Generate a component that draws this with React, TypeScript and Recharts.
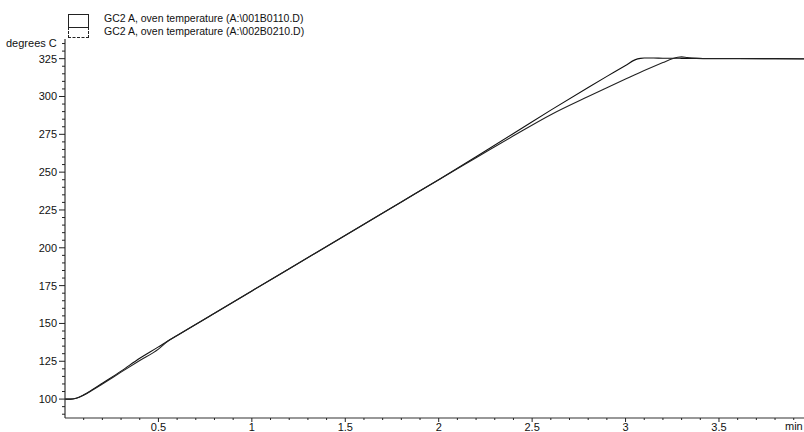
import { Line, LineChart, XAxis, YAxis } from "recharts";

const times = [
  0, 0.03, 0.06, 0.1, 0.15, 0.2, 0.3, 0.4, 0.5, 0.55, 0.6, 0.8, 1.0, 1.2, 1.4, 1.6, 1.8, 2.0, 2.2,
  2.4, 2.6, 2.8, 2.9, 3.0, 3.05, 3.08, 3.1, 3.15, 3.2, 3.25, 3.28, 3.3, 3.33, 3.38, 3.45, 3.6, 3.8,
  3.955,
];

// GC2 A, oven temperature (A:\001B0110.D)
const run1 = [
  100, 100, 100.6, 102.8, 106.5, 110.5, 118.5, 127, 134.5, 138.4, 142, 156.7, 171.5, 186.2, 200.9,
  215.6, 230.3, 245, 260.2, 275.5, 291, 306, 313.3, 320.5, 324.2, 325.2, 325.4, 325.4, 325.3, 325.3,
  325.3, 325.2, 325.2, 325.2, 325.1, 325.1, 325, 324.9,
];

// GC2 A, oven temperature (A:\002B0210.D)
const run2 = [
  100, 100, 100.5, 102.6, 106.2, 110, 117.8, 125.5, 133, 138.2, 142, 156.7, 171.5, 186.2, 200.9,
  215.6, 230.3, 245, 259.5, 274, 288, 300, 305.8, 311.5, 314.3, 316, 317.1, 319.8, 322.4, 324.9,
  325.9, 326.2, 325.7, 325.2, 325, 325, 324.9, 324.8,
];

const yTicks = [
  90, 95, 100, 105, 110, 115, 120, 125, 130, 135, 140, 145, 150, 155, 160, 165, 170, 175, 180, 185,
  190, 195, 200, 205, 210, 215, 220, 225, 230, 235, 240, 245, 250, 255, 260, 265, 270, 275, 280, 285,
  290, 295, 300, 305, 310, 315, 320, 325, 330, 335,
];

const xTicks = [
  0.1, 0.2, 0.3, 0.4, 0.5, 0.6, 0.7, 0.8, 0.9, 1, 1.1, 1.2, 1.3, 1.4, 1.5, 1.6, 1.7, 1.8, 1.9, 2,
  2.1, 2.2, 2.3, 2.4, 2.5, 2.6, 2.7, 2.8, 2.9, 3, 3.1, 3.2, 3.3, 3.4, 3.5, 3.6, 3.7, 3.8, 3.9,
];

const seriesNames = [
  "GC2 A, oven temperature (A:\\001B0110.D)",
  "GC2 A, oven temperature (A:\\002B0210.D)",
];

const data = times.map((t, i) => ({ t, a: run1[i], b: run2[i] }));

const FONT = "'Liberation Sans', Arial, sans-serif";

function YTick({ x, y, payload }: any) {
  const v = payload.value as number;
  const major = v % 25 === 0;
  return (
    <g>
      <line x1={x - (major ? 6 : 3)} x2={x} y1={y} y2={y} stroke="#222" strokeWidth={1} />
      {major && (
        <text x={x - 8} y={y + 4} textAnchor="end" fontSize={11} fontFamily={FONT} fill="#111">
          {v}
        </text>
      )}
    </g>
  );
}

function XTick({ x, y, payload }: any) {
  const v = payload.value as number;
  const major = Math.abs(v * 2 - Math.round(v * 2)) < 1e-6;
  return (
    <g>
      <line x1={x} x2={x} y1={y} y2={y + (major ? 4 : 2)} stroke="#222" strokeWidth={1} />
      {major && (
        <text x={x} y={y + 13} textAnchor="middle" fontSize={11} fontFamily={FONT} fill="#111">
          {v}
        </text>
      )}
    </g>
  );
}

function LegendBoxes() {
  return (
    <div style={{ position: "absolute", left: 0, top: 0, width: 320, height: 40 }}>
      <div
        style={{
          position: "absolute",
          left: 68,
          top: 14,
          width: 19,
          height: 12,
          border: "1px solid #222",
        }}
      />
      <div
        style={{
          position: "absolute",
          left: 68,
          top: 27,
          width: 19,
          height: 10,
          border: "1px dashed #222",
          borderTop: "none",
        }}
      />
      {seriesNames.map((name, i) => (
        <div
          key={name}
          style={{
            position: "absolute",
            left: 104,
            top: 12 + i * 13,
            fontSize: 10.5,
            lineHeight: "13px",
            color: "#111",
            whiteSpace: "nowrap",
          }}
        >
          {name}
        </div>
      ))}
    </div>
  );
}

export default function App() {
  return (
    <div
      style={{
        position: "absolute",
        left: 0,
        top: 0,
        width: 804,
        height: 432,
        overflow: "hidden",
        background: "#fff",
        fontFamily: FONT,
      }}
    >
      <LineChart
        width={804}
        height={432}
        data={data}
        margin={{ top: 39, right: 0, left: 0, bottom: 0 }}
      >
        <XAxis
          dataKey="t"
          type="number"
          domain={[0, 3.955]}
          ticks={xTicks}
          tick={<XTick />}
          tickLine={false}
          tickSize={0}
          tickMargin={0}
          height={14}
          interval={0}
          axisLine={{ stroke: "#333", strokeWidth: 1.2 }}
          allowDataOverflow
        />
        <YAxis
          type="number"
          domain={[87.5, 338]}
          ticks={yTicks}
          tick={<YTick />}
          tickLine={false}
          tickSize={0}
          tickMargin={0}
          width={65}
          interval={0}
          axisLine={{ stroke: "#333", strokeWidth: 1.2 }}
          allowDataOverflow
        />
        <Line
          name={seriesNames[0]}
          type="monotone"
          dataKey="a"
          stroke="#111"
          strokeWidth={1.1}
          dot={false}
          isAnimationActive={false}
        />
        <Line
          name={seriesNames[1]}
          type="monotone"
          dataKey="b"
          stroke="#222"
          strokeWidth={1.1}
          dot={false}
          isAnimationActive={false}
        />
      </LineChart>
      <LegendBoxes />
      <div style={{ position: "absolute", left: 6, top: 37, fontSize: 11, color: "#111" }}>
        degrees C
      </div>
      <div style={{ position: "absolute", left: 785, top: 420, fontSize: 11, color: "#111" }}>
        min
      </div>
    </div>
  );
}
